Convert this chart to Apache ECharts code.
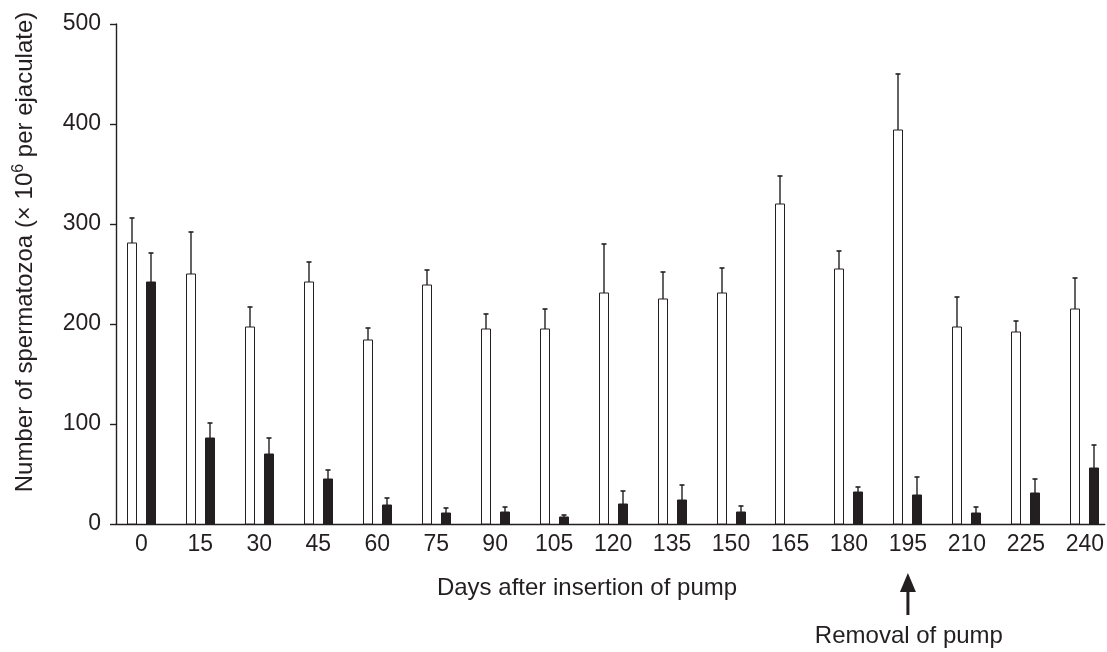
<!DOCTYPE html>
<html>
<head>
<meta charset="utf-8">
<script src="https://cdn.jsdelivr.net/npm/echarts@6/dist/echarts.min.js"></script>
<style>html,body{margin:0;padding:0;background:#fff}#c{width:1107px;height:652px}</style>
</head>
<body>
<div id="c"></div>
<script>
var days = [0, 15, 30, 45, 60, 75, 90, 105, 120, 135, 150, 165, 180, 195, 210, 225, 240];
var controlMean = [281, 250, 197, 242, 184, 239, 195, 195, 231, 225, 231, 320, 255, 394, 197, 192, 215];
var controlSem  = [25, 42, 20, 20, 12, 15, 15, 20, 49, 27, 25, 28, 18, 56, 30, 11, 31];
var treatedMean = [242, 86, 70, 45, 19, 11, 12, 7, 20, 24, 12, null, 32, 29, 11, 31, 56];
var treatedSem  = [29, 15, 16, 9, 7, 5, 5, 2, 13, 15, 6, null, 5, 18, 6, 14, 23];
var yTicks = [0, 100, 200, 300, 400, 500];

var FONT = "'Liberation Sans', Arial, Helvetica, sans-serif";
var INK = '#231f20';

function buildData(means, sems) {
  var out = [];
  for (var i = 0; i < days.length; i++) {
    if (means[i] == null) continue;
    out.push([days[i], means[i], sems[i]]);
  }
  return out;
}

function makeRender(offset, fill) {
  return function (params, api) {
    var day = api.value(0), mean = api.value(1), sem = api.value(2);
    var base = api.coord([day, 0]);
    var top = api.coord([day, mean]);
    var et = api.coord([day, mean + sem]);
    var cx = Math.round(base[0] + offset);
    return {
      type: 'group',
      children: [
        { type: 'line', shape: { x1: cx, y1: top[1], x2: cx, y2: et[1] },
          style: { stroke: INK, lineWidth: 1.4 } },
        { type: 'line', shape: { x1: cx - 2.5, y1: et[1], x2: cx + 2.5, y2: et[1] },
          style: { stroke: INK, lineWidth: 1.6 } },
        { type: 'rect', shape: { x: cx - 4.5, y: top[1], width: 9, height: base[1] - top[1] },
          style: { fill: fill, stroke: INK, lineWidth: 1 } }
      ]
    };
  };
}

var chart = echarts.init(document.getElementById('c'), null, { renderer: 'canvas' });
var option = {
  animation: false,
  backgroundColor: '#fff',
  textStyle: { fontFamily: FONT, color: INK },
  grid: { left: 116, right: 0, top: 24, bottom: 128, containLabel: false },
  xAxis: {
    type: 'value',
    min: -6.45,
    max: 245.07,
    axisLine: { show: true, onZero: false, lineStyle: { color: INK, width: 1.4 } },
    axisTick: { show: false },
    splitLine: { show: false },
    axisLabel: {
      customValues: days,
      fontSize: 23, color: INK, fontFamily: FONT, margin: 9
    }
  },
  yAxis: {
    type: 'value',
    min: 0, max: 500, interval: 100,
    axisLine: { show: true, onZero: false, lineStyle: { color: INK, width: 1.4 } },
    axisTick: { show: true, inside: false, length: 6, lineStyle: { color: INK, width: 1.4 } },
    splitLine: { show: false },
    axisLabel: {
      customValues: yTicks,
      fontSize: 23, color: INK, fontFamily: FONT, margin: 15
    }
  },
  series: [
    { type: 'custom', name: 'Control', data: buildData(controlMean, controlSem),
      renderItem: makeRender(-9.5, '#ffffff'), clip: false, z: 3 },
    { type: 'custom', name: 'Treated', data: buildData(treatedMean, treatedSem),
      renderItem: makeRender(9.5, INK), clip: false, z: 3 }
  ]
};
chart.setOption(option);

var ax = chart.convertToPixel({ xAxisIndex: 0 }, 195);
chart.setOption({
  graphic: [
    { type: 'text', x: 25, y: 252, rotation: Math.PI / 2,
      style: {
        text: '{a|Number of spermatozoa (× 10}{s|6}{a| per ejaculate)}',
        align: 'center', verticalAlign: 'middle',
        rich: {
          a: { fontSize: 24, fontFamily: FONT, fill: INK, lineHeight: 28 },
          s: { fontSize: 16, fontFamily: FONT, fill: INK, verticalAlign: 'top', lineHeight: 28 }
        }
      } },
    { type: 'text', x: 587, y: 588,
      style: { text: 'Days after insertion of pump', fontSize: 24, fontFamily: FONT, fill: INK,
               align: 'center', verticalAlign: 'middle' } },
    { type: 'polygon', shape: { points: [[ax - 8, 592], [ax + 8, 592], [ax, 573]] },
      style: { fill: INK } },
    { type: 'rect', shape: { x: ax - 1.5, y: 590, width: 3, height: 25 },
      style: { fill: INK } },
    { type: 'text', x: ax + 1, y: 636,
      style: { text: 'Removal of pump', fontSize: 24, fontFamily: FONT, fill: INK,
               align: 'center', verticalAlign: 'middle' } }
  ]
});
</script>
</body>
</html>
